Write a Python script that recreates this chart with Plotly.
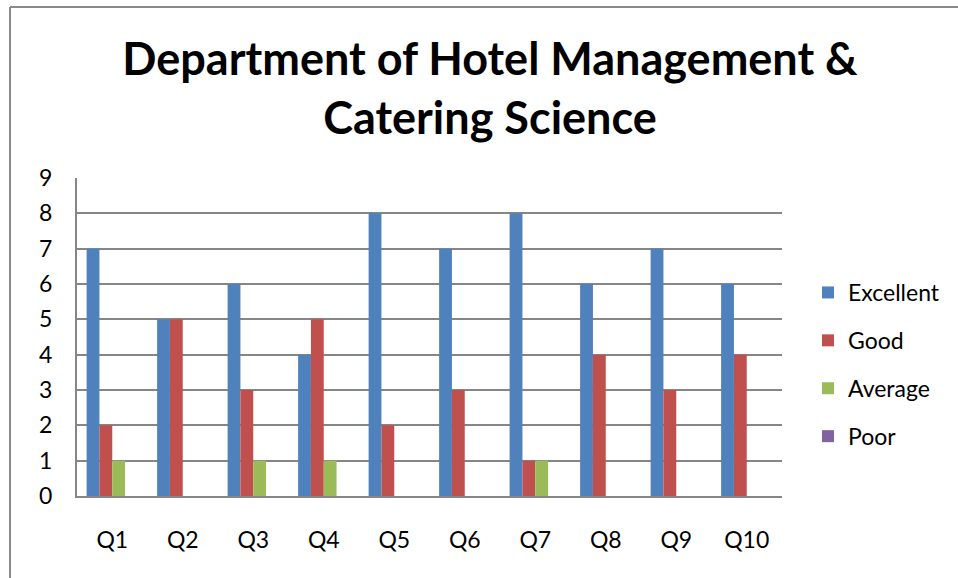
import plotly.graph_objects as go

categories = ["Q1", "Q2", "Q3", "Q4", "Q5", "Q6", "Q7", "Q8", "Q9", "Q10"]
excellent = [7, 5, 6, 4, 8, 7, 8, 6, 7, 6]
good = [2, 5, 3, 5, 2, 3, 1, 4, 3, 4]
average = [1, 0, 1, 1, 0, 0, 1, 0, 0, 0]
poor = [0, 0, 0, 0, 0, 0, 0, 0, 0, 0]
series_names = ["Excellent", "Good", "Average", "Poor"]
colors = ["#4F81BD", "#C0504D", "#9BBB59", "#8064A2"]

FONT = "Lato"
fig = go.Figure()
for name, vals, col in zip(series_names, [excellent, good, average, poor], colors):
    fig.add_trace(go.Bar(x=categories, y=vals, name=name, marker_color=col,
                         marker_line_width=0, legendgroup=name))

W, H = 958, 578
L, R, T, B = 77, 782, 178, 496
pw, ph = R - L, B - T

def px(x):
    return (x - L) / pw

def py(y):
    return (B - y) / ph

fig.update_layout(
    width=W, height=H,
    margin=dict(l=L, r=W - R, t=T, b=H - B, autoexpand=False),
    paper_bgcolor="white", plot_bgcolor="white",
    barmode="group", bargap=0.273, bargroupgap=0,
    font=dict(family=FONT, color="black", size=23),
    title=dict(text="<b>Department of Hotel Management &<br>Catering Science</b>",
               x=490 / W, xanchor="center", y=1 - 75 / H, yanchor="top",
               font=dict(family=FONT, size=45, color="black")),
    legend=dict(x=px(808), xanchor="left", y=py(271), yanchor="top",
                font=dict(family=FONT, size=23), traceorder="grouped",
                tracegroupgap=15, itemwidth=30, bgcolor="rgba(0,0,0,0)"),
    showlegend=True,
)
fig.update_xaxes(showgrid=False, showline=True, linecolor="#868686", linewidth=2,
                 ticks="", tickfont=dict(family=FONT, size=23), ticklabelstandoff=22)
fig.update_yaxes(range=[0, 9], dtick=1, showgrid=True, gridcolor="#868686", gridwidth=2,
                 showline=True, linecolor="#868686", linewidth=2, zeroline=False,
                 ticks="", tickfont=dict(family=FONT, size=23), ticklabelstandoff=18)

# outer chart border (left and top)
fig.add_shape(type="line", xref="paper", yref="paper", x0=px(10), x1=px(10),
              y0=py(7), y1=py(H + 5), line=dict(color="#8a8a8a", width=2))
fig.add_shape(type="line", xref="paper", yref="paper", x0=px(10), x1=px(W + 5),
              y0=py(7), y1=py(7), line=dict(color="#8a8a8a", width=2))

fig.write_html("out.html", config={"displayModeBar": False},
               post_script="document.body.style.margin='0px';document.body.style.overflow='hidden';")
